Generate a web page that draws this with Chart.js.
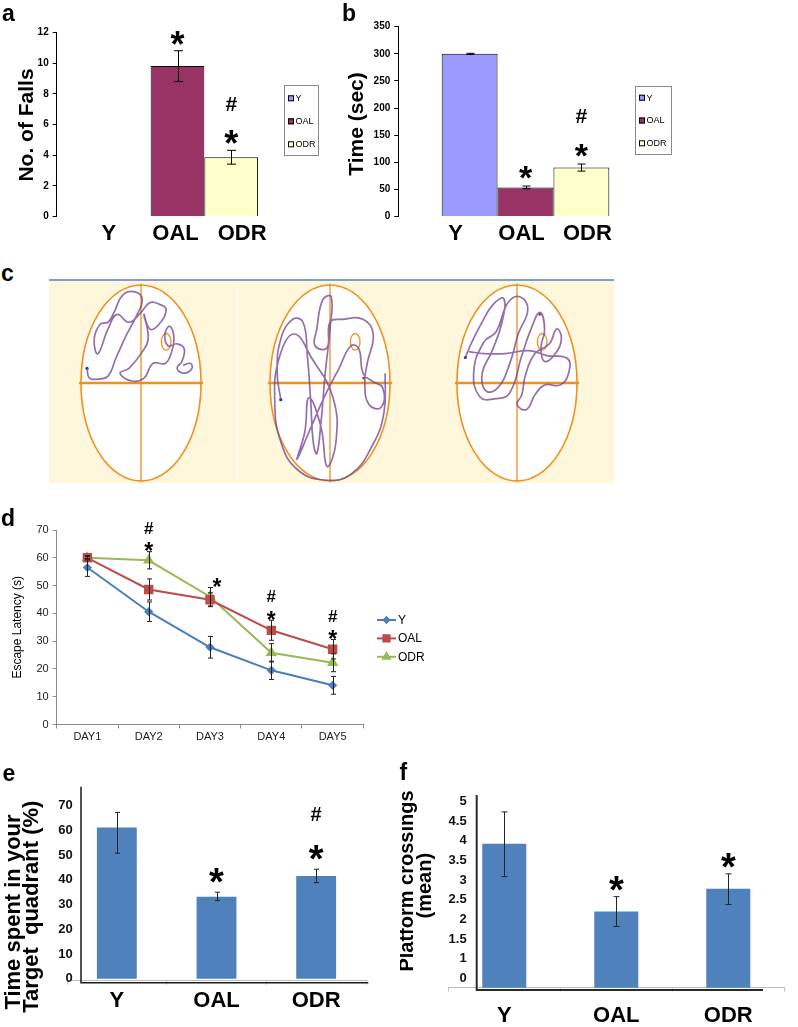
<!DOCTYPE html>
<html><head><meta charset="utf-8">
<script src="https://cdn.jsdelivr.net/npm/chart.js@4.4.1/dist/chart.umd.min.js"></script>
<style>
body{margin:0;background:#fff;width:798px;height:1027px;position:relative;overflow:hidden;}
canvas{position:absolute;}
.lbl{position:absolute;font:bold 23px 'Liberation Sans',Arial,sans-serif;line-height:23px;color:#000;z-index:5;}
#cband{position:absolute;left:49px;top:279px;width:565px;height:202px;background:#fff7dc;border-top:2px solid #7f9ed1;}
#cseam{position:absolute;left:237px;top:281px;width:1px;height:202px;background:#fffdf4;}
</style></head><body>
<div id="cband"></div><div id="cseam"></div>
<canvas id="cA" width="340" height="260" style="left:0;top:0"></canvas>
<canvas id="cB" width="350" height="260" style="left:340px;top:0"></canvas>
<canvas id="m1" width="130" height="204" style="left:76px;top:281px"></canvas>
<canvas id="m2" width="130" height="204" style="left:265px;top:281px"></canvas>
<canvas id="m3" width="130" height="204" style="left:452px;top:281px"></canvas>
<canvas id="cD" width="560" height="260" style="left:0;top:500px"></canvas>
<canvas id="cE" width="400" height="267" style="left:0;top:760px"></canvas>
<canvas id="cF" width="398" height="267" style="left:400px;top:760px"></canvas>
<div class="lbl" style="left:2px;top:2px">a</div>
<div class="lbl" style="left:342px;top:2px">b</div>
<div class="lbl" style="left:1px;top:262px">c</div>
<div class="lbl" style="left:1px;top:507px">d</div>
<div class="lbl" style="left:2.5px;top:762px">e</div>
<div class="lbl" style="left:399.5px;top:760.5px">f</div>
<script>
// ---------------- DATA ----------------
const groups = ['Y', 'OAL', 'ODR'];
const groupColors = ['#9999ff', '#993366', '#ffffcc'];

// a: rotarod number of falls
const fallsMean = [0, 9.8, 3.87];
const fallsErr = [0, 1.0, 0.45];
const fallsMarks = ['', '*', '*#'];

// b: rotarod time (sec)
const rotarodTime = [300, 54, 90.5];
const rotarodErr = [1, 2.5, 6.5];
const rotarodMarks = ['', '*', '*#'];

// c: swim tracks (normalised pool coordinates, -1..1)
const track1 = [[-0.9,0.15],[-0.86,0.05],[-0.72,0.04],[-0.55,0.07],[-0.42,0.25],[-0.25,0.48],[-0.08,0.68],[0.02,0.85],[-0.1,0.93],[-0.3,0.9],[-0.45,0.72],[-0.55,0.62],[-0.68,0.6],[-0.78,0.45],[-0.72,0.3],[-0.55,0.55],[-0.4,0.7],[-0.2,0.62],[0,0.72],[0.15,0.82],[0.32,0.8],[0.42,0.75],[0.3,0.6],[0.15,0.55],[0.05,0.7],[0.12,0.45],[0,0.3],[-0.2,0.15],[-0.35,0.1],[-0.15,0.02],[0.05,0.05],[0.2,0.2],[0.4,0.2],[0.5,0.3],[0.55,0.45],[0.48,0.58],[0.4,0.5],[0.45,0.38],[0.6,0.4],[0.72,0.35],[0.68,0.22],[0.6,0.15],[0.72,0.1],[0.85,0.15],[0.82,0.2],[0.7,0.18]];
const track2 = [[-0.82,-0.17],[-0.88,0.1],[-0.82,0.45],[-0.62,0.65],[-0.45,0.62],[-0.38,0.3],[-0.32,-0.2],[-0.28,-0.6],[-0.22,-0.72],[-0.15,-0.4],[-0.08,0.1],[0,0.55],[0.02,0.88],[-0.12,0.85],[-0.22,0.55],[-0.25,0.38],[-0.05,0.36],[0,0.62],[0.2,0.65],[0.55,0.65],[0.72,0.5],[0.62,0.2],[0.58,0],[0.65,-0.22],[0.85,-0.25],[0.88,-0.05],[0.7,0.02],[0.55,0.1],[0.48,0.35],[0.35,0.38],[0.15,0.15],[-0.1,-0.15],[-0.35,-0.5],[-0.55,-0.78],[-0.42,-0.5],[-0.35,-0.15],[-0.15,-0.45],[-0.05,-0.85],[0.1,-0.6],[0.05,-0.15],[-0.3,0.25],[-0.6,0.5],[-0.85,0.25],[-0.92,-0.2],[-0.82,-0.6],[-0.55,-0.88],[-0.1,-0.99],[0.35,-0.93],[0.72,-0.62],[0.9,-0.3],[0.92,0.1]];
const track3 = [[-0.86,0.26],[-0.78,0.38],[-0.6,0.6],[-0.4,0.8],[-0.22,0.86],[-0.25,0.62],[-0.42,0.32],[-0.58,0.1],[-0.52,-0.08],[-0.32,-0.05],[-0.12,0.2],[0.02,0.5],[0.18,0.75],[0.05,0.88],[-0.15,0.82],[-0.35,0.52],[-0.55,0.42],[-0.72,0.12],[-0.62,-0.14],[-0.35,-0.16],[-0.12,-0.1],[0.08,0.28],[0.24,0.56],[0.38,0.72],[0.46,0.55],[0.4,0.36],[0.46,0.22],[0.64,0.3],[0.74,0.46],[0.66,0.55],[0.54,0.4],[0.3,0.3],[0.14,0.08],[0.08,-0.12],[0,-0.22],[0.16,-0.27],[0.3,-0.12],[0.46,-0.02],[0.72,-0.02],[0.86,0.1],[0.84,0.25],[0.5,0.28],[0.2,0.33],[-0.2,0.3],[-0.55,0.3],[-0.8,0.32]];
const trackEnds = [null, [0.56, 0.05], [0.38, 0.70]];
const platformPos = [0.42, 0.42];
const platformRadius = [0.08, 0.085];

// d: escape latency (s)
const days = ['DAY1', 'DAY2', 'DAY3', 'DAY4', 'DAY5'];
const latY = [56.5, 40.6, 27.8, 19.5, 14.1];
const latYErr = [3.2, 3.5, 3.9, 3.3, 3.2];
const latOAL = [60, 48.6, 44.9, 33.9, 27.1];
const latOALErr = [0.5, 3.8, 2.5, 3.6, 3.5];
const latODR = [60, 59.1, 46, 25.8, 22.2];
const latODRErr = [0.8, 3.1, 3.3, 3.3, 3.2];
const latMarks = ['', '*#', '*', '*#', '*#'];

// e: time in target quadrant (%)
const quadMean = [61.2, 33.2, 41.6];
const quadErrPlus = [6.1, 1.8, 2.7];
const quadErrMinus = [10.4, 1.6, 2.7];
const quadMarks = ['', '*', '*#'];
const quadTicks = [0, 10, 20, 30, 40, 50, 60, 70];

// f: platform crossings (mean)
const crossMean = [3.93, 2.2, 2.78];
const crossErrPlus = [0.81, 0.38, 0.38];
const crossErrMinus = [0.84, 0.38, 0.4];
const crossMarks = ['', '*', '*'];
const crossTickValues = [0.5, 1, 1.5, 2, 2.5, 3, 3.5, 4, 4.5, 5];
const crossTickLabels = ['0', '1', '1.5', '2', '2.5', '3', '3.5', '4', '4.5', '5'];

// ---------------- PLUGINS ----------------
const FAM = "'Liberation Sans', Arial, Helvetica, sans-serif";
const NARROW = "'Liberation Sans Narrow', 'Arial Narrow', 'Liberation Sans', Arial, sans-serif";
Chart.defaults.font.family = FAM;
Chart.defaults.color = '#000';

const errPlugin = {
  id: 'errBars',
  afterDatasetsDraw(chart, args, o) {
    if (!o || !o.sets) return;
    const ctx = chart.ctx, ys = chart.scales.y;
    ctx.save(); ctx.strokeStyle = o.color || '#000'; ctx.lineWidth = o.width || 1;
    o.sets.forEach((s, di) => {
      if (!s) return;
      const meta = chart.getDatasetMeta(di);
      meta.data.forEach((el, i) => {
        const v = chart.data.datasets[di].data[i];
        const p = s.plus[i], m = s.minus[i];
        if (v == null || (!p && !m)) return;
        const x = Math.round(el.x) + 0.5;
        const yt = ys.getPixelForValue(v + p), yb = ys.getPixelForValue(v - m);
        ctx.beginPath();
        ctx.moveTo(x, yt); ctx.lineTo(x, yb);
        ctx.moveTo(x - o.cap, yt); ctx.lineTo(x + o.cap, yt);
        ctx.moveTo(x - o.cap, yb); ctx.lineTo(x + o.cap, yb);
        ctx.stroke();
      });
    });
    ctx.restore();
  }
};

const sigPlugin = {
  id: 'sigMarks',
  afterDraw(chart, args, o) {
    if (!o || !o.marks) return;
    const ctx = chart.ctx, ys = chart.scales.y, eb = chart.options.plugins.errBars;
    ctx.save(); ctx.textAlign = 'center'; ctx.textBaseline = 'alphabetic'; ctx.fillStyle = '#000';
    o.marks.forEach((str, slot) => {
      if (!str) return;
      let x, top = -Infinity;
      if (o.mode === 'datasets') {
        x = chart.getDatasetMeta(slot).data[0].x;
        top = chart.data.datasets[slot].data[0] + eb.sets[slot].plus[0];
      } else {
        chart.data.datasets.forEach((ds, di) => {
          const el = chart.getDatasetMeta(di).data[slot];
          if (di === 0) x = el.x;
          top = Math.max(top, ds.data[slot] + eb.sets[di].plus[slot]);
        });
      }
      if (o.dx) x += o.dx[slot] || 0;
      let cy = ys.getPixelForValue(top) + o.first;
      [...str].forEach(ch => {
        const f = o.fonts[ch];
        ctx.font = 'bold ' + f.size + 'px ' + FAM;
        ctx.fillText(ch, x, cy + f.k * f.size);
        cy += o.step;
      });
    });
    ctx.restore();
  }
};

const yTitlePlugin = {
  id: 'yTitle',
  afterDraw(chart, args, o) {
    if (!o || !o.lines) return;
    const ctx = chart.ctx, ca = chart.chartArea;
    ctx.save(); ctx.font = o.font; ctx.fillStyle = o.color || '#000';
    ctx.textAlign = 'center'; ctx.textBaseline = 'alphabetic';
    o.lines.forEach((t, i) => {
      const cy = o.cys ? o.cys[i] : (ca.top + ca.bottom) / 2;
      ctx.save(); ctx.translate(o.x[i], cy); ctx.rotate(-Math.PI / 2);
      ctx.fillText(t, 0, 0); ctx.restore();
    });
    ctx.restore();
  }
};

const groupLabelPlugin = {
  id: 'groupLabels',
  afterDraw(chart, args, o) {
    if (!o || !o.on) return;
    const ctx = chart.ctx;
    ctx.save(); ctx.font = o.font; ctx.textAlign = 'center'; ctx.textBaseline = 'alphabetic'; ctx.fillStyle = '#000';
    const xs = chart.data.datasets.map((d, i) => chart.getDatasetMeta(i).data[0].x);
    const c = (xs[0] + xs[xs.length - 1]) / 2;
    xs.forEach((x, i) => ctx.fillText(chart.data.datasets[i].label, c + o.dx + (x - c) * o.spread, o.y));
    ctx.restore();
  }
};

const boxLegendPlugin = {
  id: 'boxLegend',
  afterDraw(chart, args, o) {
    if (!o || !o.on) return;
    const ctx = chart.ctx;
    ctx.save();
    ctx.strokeStyle = '#8a8a8a'; ctx.lineWidth = 1;
    ctx.strokeRect(o.x + 0.5, o.y + 0.5, o.w, o.h);
    ctx.font = o.font; ctx.textBaseline = 'middle'; ctx.textAlign = 'left';
    chart.data.datasets.forEach((ds, i) => {
      const y = o.y0 + i * o.dy;
      ctx.fillStyle = ds.backgroundColor; ctx.fillRect(o.sx, y - 3, 6, 6);
      ctx.strokeStyle = '#000'; ctx.strokeRect(o.sx + 0.5, y - 2.5, 5, 5);
      ctx.fillStyle = '#000'; ctx.fillText(ds.label, o.tx, y + 0.5);
    });
    ctx.restore();
  }
};

const lineLegendPlugin = {
  id: 'lineLegend',
  afterDraw(chart, args, o) {
    if (!o || !o.on) return;
    const ctx = chart.ctx;
    ctx.save(); ctx.font = o.font; ctx.textBaseline = 'middle'; ctx.textAlign = 'left';
    chart.data.datasets.forEach((ds, i) => {
      const y = o.y0 + i * o.dy;
      ctx.strokeStyle = ds.borderColor; ctx.fillStyle = ds.borderColor; ctx.lineWidth = 2;
      ctx.beginPath(); ctx.moveTo(o.x, y); ctx.lineTo(o.x + o.len, y); ctx.stroke();
      Chart.helpers.drawPoint(ctx, {pointStyle: ds.pointStyle, radius: ds.pointRadius * 0.85, rotation: 0, borderWidth: 1}, o.x + o.len / 2, y);
      ctx.fillStyle = '#000'; ctx.fillText(ds.label, o.tx, y + 0.5);
    });
    ctx.restore();
  }
};

const frameLinesPlugin = {
  id: 'frameLines',
  afterDraw(chart, args, o) {
    if (!o || o.vx == null) return;
    const ctx = chart.ctx, ca = chart.chartArea;
    ctx.save(); ctx.strokeStyle = o.color; ctx.lineWidth = o.width;
    ctx.beginPath();
    ctx.moveTo(ca.left + o.vx, ca.top);
    ctx.lineTo(ca.left + o.vx, ca.bottom + o.hy);
    ctx.lineTo(ca.right + o.hr, ca.bottom + o.hy);
    ctx.stroke(); ctx.restore();
  }
};

const poolPlugin = {
  id: 'pool',
  beforeDatasetsDraw(chart, args, o) {
    if (!o || !o.on) return;
    const ctx = chart.ctx, xs = chart.scales.x, ys = chart.scales.y;
    const cx = xs.getPixelForValue(0), cy = ys.getPixelForValue(0);
    const rx = xs.getPixelForValue(1) - cx, ry = cy - ys.getPixelForValue(1);
    ctx.save();
    ctx.beginPath(); ctx.ellipse(cx, cy, rx, ry, 0, 0, 2 * Math.PI);
    ctx.fillStyle = '#ffffff'; ctx.fill();
    ctx.strokeStyle = '#f0901e'; ctx.lineWidth = 1.6; ctx.stroke();
    ctx.beginPath(); ctx.lineWidth = 2.6; ctx.moveTo(cx - rx - 2, cy); ctx.lineTo(cx + rx + 2, cy); ctx.stroke();
    ctx.beginPath(); ctx.lineWidth = 1.3; ctx.moveTo(cx, cy - ry - 1.5); ctx.lineTo(cx, cy + ry + 1.5); ctx.stroke();
    const px = xs.getPixelForValue(o.platform[0]), py = ys.getPixelForValue(o.platform[1]);
    const prx = xs.getPixelForValue(o.platform[0] + o.radius[0]) - px;
    const pry = py - ys.getPixelForValue(o.platform[1] + o.radius[1]);
    ctx.beginPath(); ctx.ellipse(px, py, prx, pry, 0, 0, 2 * Math.PI); ctx.lineWidth = 1.3; ctx.stroke();
    ctx.restore();
  }
};

Chart.register(errPlugin, sigPlugin, yTitlePlugin, groupLabelPlugin, boxLegendPlugin, lineLegendPlugin, frameLinesPlugin, poolPlugin);

const fixW = w => s => { s.width = w; };
const fixH = h => s => { s.height = h; };
const base = {responsive: false, animation: false, events: [], devicePixelRatio: 1};

// ---------------- a & b ----------------
function groupBars(id, vals, errs, marks, cfg) {
  new Chart(document.getElementById(id), {
    type: 'bar',
    data: {
      labels: [''],
      datasets: groups.map((g, i) => ({
        label: g, data: [vals[i]], backgroundColor: groupColors[i],
        borderColor: '#000', borderWidth: c => (c.raw ? 1 : 0)
      }))
    },
    options: Object.assign({}, base, {
      layout: {padding: {left: 0, top: cfg.top, right: cfg.right, bottom: 0}},
      datasets: {bar: {categoryPercentage: cfg.catPct, barPercentage: 1}},
      scales: {
        x: {afterFit: fixH(cfg.xh), ticks: {display: false}, grid: {display: false}, border: {display: false}},
        y: {min: 0, max: cfg.max, afterFit: fixW(cfg.yw),
            ticks: {stepSize: cfg.step, padding: 4, color: '#000', font: {family: FAM, weight: 'bold', size: 10}},
            grid: {drawOnChartArea: false, tickLength: 4, color: '#000'},
            border: {color: '#000', width: 1}}
      },
      plugins: {
        legend: {display: false}, tooltip: {enabled: false},
        errBars: {sets: groups.map((g, i) => ({plus: [errs[i]], minus: [errs[i]]})), cap: cfg.cap},
        sigMarks: {mode: 'datasets', marks: marks, first: cfg.first, step: -32,
                   fonts: {'*': {size: cfg.star, k: 0.58}, '#': {size: 21, k: 0.36}}},
        yTitle: {lines: [cfg.title], x: [cfg.titleX], cys: [cfg.titleY], font: 'bold 21px ' + FAM},
        groupLabels: {on: true, y: 240, font: 'bold 22px ' + FAM, spread: cfg.spread, dx: cfg.dx},
        boxLegend: cfg.legend
      }
    })
  });
}

groupBars('cA', fallsMean, fallsErr, fallsMarks, {
  top: 32.3, right: 41.7, catPct: 0.667, xh: 43.3, yw: 56.7, max: 12, step: 2, cap: 4.5,
  first: -15, star: 36, title: 'No. of Falls', titleX: 33.3, titleY: 125, spread: 1.24, dx: -2,
  legend: {on: true, x: 284, y: 85, w: 34, h: 70, sx: 288, tx: 295.5, y0: 98.3, dy: 23, font: '9px ' + NARROW}
});
groupBars('cB', rotarodTime, rotarodErr, rotarodMarks, {
  top: 26.7, right: 37.3, catPct: 0.659, xh: 43.3, yw: 58.3, max: 350, step: 50, cap: 4,
  first: -16.5, star: 34, title: 'Time (sec)', titleX: 23, titleY: 124, spread: 1.18, dx: -4,
  legend: {on: true, x: 295, y: 86, w: 36, h: 68, sx: 299, tx: 306.5, y0: 97.7, dy: 22.8, font: '9px ' + NARROW}
});

// ---------------- c ----------------
function maze(id, track, endPt) {
  const ds = [
    {data: track.map(p => ({x: p[0], y: p[1]})), showLine: true, borderColor: 'rgba(118,70,146,0.78)',
     borderWidth: 1.7, pointRadius: 0, tension: 0.45},
    {data: [{x: track[0][0], y: track[0][1]}], pointRadius: 1.6, pointBackgroundColor: '#1530d8', pointBorderWidth: 0}
  ];
  if (endPt) ds.push({data: [{x: endPt[0], y: endPt[1]}], pointRadius: 1.4, pointBackgroundColor: '#e02020', pointBorderWidth: 0});
  new Chart(document.getElementById(id), {
    type: 'scatter',
    data: {datasets: ds},
    options: Object.assign({}, base, {
      clip: false,
      layout: {padding: {left: 5, right: 5, top: 3, bottom: 3.3}},
      scales: {x: {display: false, min: -1, max: 1}, y: {display: false, min: -1, max: 1}},
      plugins: {legend: {display: false}, tooltip: {enabled: false},
                pool: {on: true, platform: platformPos, radius: platformRadius}}
    })
  });
}
maze('m1', track1, trackEnds[0]);
maze('m2', track2, trackEnds[1]);
maze('m3', track3, trackEnds[2]);

// ---------------- d ----------------
new Chart(document.getElementById('cD'), {
  type: 'line',
  data: {
    labels: days,
    datasets: [
      {label: 'Y', data: latY, borderColor: '#4a7ebb', backgroundColor: '#4a7ebb', pointBackgroundColor: '#4a7ebb', pointStyle: 'rectRot', pointRadius: 3.2, borderWidth: 2},
      {label: 'OAL', data: latOAL, borderColor: '#be4b48', backgroundColor: '#be4b48', pointBackgroundColor: '#be4b48', pointStyle: 'rect', pointRadius: 5.2, borderWidth: 2},
      {label: 'ODR', data: latODR, borderColor: '#98b954', backgroundColor: '#98b954', pointBackgroundColor: '#98b954', pointStyle: 'triangle', pointRadius: 4.6, borderWidth: 2}
    ]
  },
  options: Object.assign({}, base, {
    layout: {padding: {left: 0, top: 30, right: 196.7, bottom: 0}},
    scales: {
      x: {offset: true, afterFit: fixH(35.5), ticks: {font: {size: 11}, color: '#222', padding: 2},
          grid: {offset: true, drawOnChartArea: false, tickLength: 4, color: '#8c8c8c'}, border: {color: '#8c8c8c'}},
      y: {min: 0, max: 70, afterFit: fixW(56.7), ticks: {stepSize: 10, padding: 4, font: {size: 11}, color: '#222'},
          grid: {drawOnChartArea: false, tickLength: 4, color: '#8c8c8c'}, border: {color: '#8c8c8c'}}
    },
    plugins: {
      legend: {display: false}, tooltip: {enabled: false},
      errBars: {sets: [{plus: latYErr, minus: latYErr}, {plus: latOALErr, minus: latOALErr}, {plus: latODRErr, minus: latODRErr}], cap: 2.5, color: '#222'},
      sigMarks: {mode: 'index', marks: latMarks, first: -6, step: -18, dx: [0, 0, 7, 0, 0],
                 fonts: {'*': {size: 23, k: 0.58}, '#': {size: 17, k: 0.36}}},
      yTitle: {lines: ['Escape Latency (s)'], x: [21.3], font: '12px ' + FAM},
      lineLegend: {on: true, x: 377, len: 19, tx: 398, y0: 120, dy: 18.4, font: '12px ' + FAM}
    }
  })
});

// ---------------- e & f ----------------
function singleBars(id, vals, plus, minus, marks, cfg) {
  new Chart(document.getElementById(id), {
    type: 'bar',
    data: {labels: groups, datasets: [{label: cfg.name, data: vals, backgroundColor: '#4f81bd', categoryPercentage: 1, barPercentage: cfg.barPct}]},
    options: Object.assign({}, base, {
      layout: {padding: {left: 0, top: cfg.top, right: cfg.right, bottom: 0}},
      scales: {
        x: {afterFit: fixH(cfg.xh), ticks: {font: {size: 22, weight: 'bold'}, color: '#000', padding: cfg.xpad},
            grid: {offset: true, drawOnChartArea: false, tickLength: 4, color: '#c4c4c4'}, border: {color: '#bdbdbd'}},
        y: {min: cfg.min, max: cfg.max, afterFit: fixW(cfg.yw),
            afterBuildTicks: s => { s.ticks = cfg.tickValues.map(v => ({value: v})); },
            ticks: {mirror: true, crossAlign: 'far', padding: cfg.ypad, font: {size: 13, weight: 'bold'}, color: '#111',
                    callback: (v, i) => cfg.tickLabels[i]},
            grid: {display: false, drawTicks: false}, border: {display: false}}
      },
      plugins: {
        legend: {display: false}, tooltip: {enabled: false},
        errBars: {sets: [{plus: plus, minus: minus}], cap: cfg.cap, color: '#222'},
        sigMarks: {mode: 'index', marks: marks, first: cfg.first, step: cfg.mstep,
                   fonts: {'*': {size: 38, k: 0.58}, '#': {size: 20, k: 0.36}}},
        yTitle: {lines: cfg.title, x: cfg.titleX, cys: cfg.titleY, font: 'bold ' + cfg.titleSize + 'px ' + FAM},
        frameLines: cfg.frame
      }
    })
  });
}

singleBars('cE', quadMean, quadErrPlus, quadErrMinus, quadMarks, {
  name: 'Time spent', barPct: 0.4, top: 26.7, right: 34, xh: 46.3, xpad: 2.6, min: -0.8, max: 77.7, yw: 67,
  tickValues: quadTicks, tickLabels: quadTicks.map(String), ypad: -8.8, cap: 2.5, first: -19.5, mstep: -35.7,
  title: ['Time spent in your', 'Target  quadrant (%)'], titleX: [19.8, 38.4], titleY: [152, 146.7], titleSize: 22,
  frame: {vx: 14, hy: 2, hr: 2.3, color: '#1a1a1a', width: 1.5}
});
singleBars('cF', crossMean, crossErrPlus, crossErrMinus, crossMarks, {
  name: 'Platform crossings', barPct: 0.393, top: 35, right: 13.7, xh: 39.3, xpad: 11, min: 0.26, max: 5.17, yw: 48.3,
  tickValues: crossTickValues, tickLabels: crossTickLabels, ypad: 0.3, cap: 3, first: -16, mstep: -33,
  title: ['Platform crossings', '(mean)'], titleX: [13, 31], titleY: [121, 125.7], titleSize: 20,
  frame: {vx: 28.4, hy: 2.3, hr: -21.3, color: '#2a2a2a', width: 2}
});
</script>
</body></html>
